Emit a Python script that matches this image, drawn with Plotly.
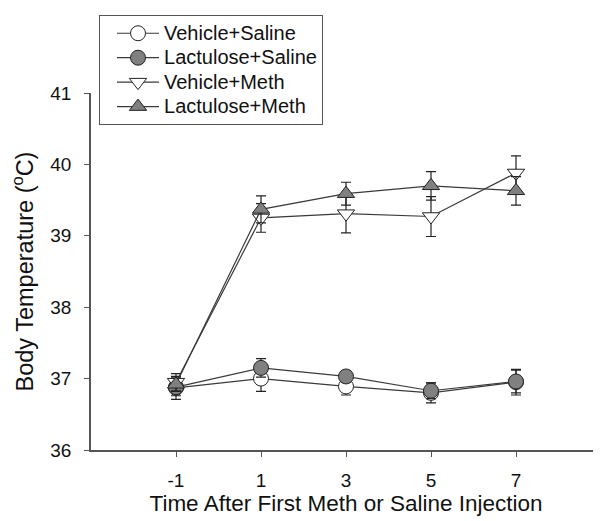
import plotly.graph_objects as go

# time points (h) and tick labels
time = [-1, 1, 3, 5, 7]
tick_labels = ["-1", "1", "3", "5", "7"]

# mean body temperature (deg C) and SEM per group
veh_sal = [36.87, 37.00, 36.89, 36.80, 36.95]
veh_sal_err = [0.16, 0.18, 0.12, 0.14, 0.18]
lac_sal = [36.88, 37.15, 37.03, 36.83, 36.96]
lac_sal_err = [0.12, 0.13, 0.08, 0.11, 0.16]
veh_meth = [36.95, 39.25, 39.31, 39.27, 39.88]
veh_meth_err = [0.12, 0.20, 0.27, 0.28, 0.24]
lac_meth = [36.92, 39.37, 39.59, 39.70, 39.63]
lac_meth_err = [0.10, 0.19, 0.16, 0.20, 0.20]

FONT = "Arial, Liberation Sans, sans-serif"
LINE = "#3a3a3a"
GREY = "#808080"

groups = [
    ("Vehicle+Saline", veh_sal, veh_sal_err, "circle", "white"),
    ("Lactulose+Saline", lac_sal, lac_sal_err, "circle", GREY),
    ("Vehicle+Meth", veh_meth, veh_meth_err, "triangle-down", "white"),
    ("Lactulose+Meth", lac_meth, lac_meth_err, "triangle-up", GREY),
]

fig = go.Figure()
for name, y, err, symbol, fill in groups:
    fig.add_trace(
        go.Scatter(
            x=time,
            y=y,
            # bigger text than legend.font so the rows stay tight like the original
            name=f'<span style="font-size:20px">{name}</span>',
            mode="lines+markers",
            line=dict(color=LINE, width=1.2),
            marker=dict(
                symbol=symbol,
                size=15,
                color=fill,
                line=dict(color="#222222", width=1),
            ),
            error_y=dict(
                type="data",
                array=err,
                color="#222222",
                thickness=1.2,
                width=5,
            ),
        )
    )

fig.update_layout(
    width=601,
    height=521,
    margin=dict(l=83, r=8, t=84, b=79),
    paper_bgcolor="white",
    plot_bgcolor="white",
    font=dict(family=FONT, size=19, color="#111111"),
    showlegend=True,
    legend=dict(
        x=0.0157,
        y=1.215,
        xanchor="left",
        yanchor="top",
        bordercolor="#555555",
        borderwidth=1,
        bgcolor="white",
        font=dict(family=FONT, size=16.5, color="#111111"),
        tracegroupgap=0,
        indentation=12,
        itemwidth=42,
    ),
)
fig.update_xaxes(
    range=[-3, 9],
    tickvals=time,
    ticktext=tick_labels,
    ticks="outside",
    ticklen=5,
    tickcolor="#555555",
    ticklabelstandoff=7,
    showline=True,
    linecolor="#555555",
    linewidth=1.5,
    showgrid=False,
    zeroline=False,
    tickfont=dict(size=19),
    title=dict(text="Time After First Meth or Saline Injection", font=dict(size=22.5), standoff=4),
)
fig.update_yaxes(
    range=[36, 41],
    tickvals=[36, 37, 38, 39, 40, 41],
    ticks="outside",
    ticklen=5,
    tickcolor="#555555",
    ticklabelstandoff=9,
    showline=True,
    linecolor="#555555",
    linewidth=1.5,
    showgrid=False,
    zeroline=False,
    tickfont=dict(size=19),
    title=dict(text="Body Temperature (<sup>o</sup>C)", font=dict(size=23.5), standoff=10),
)

fig.write_html("out.html")
